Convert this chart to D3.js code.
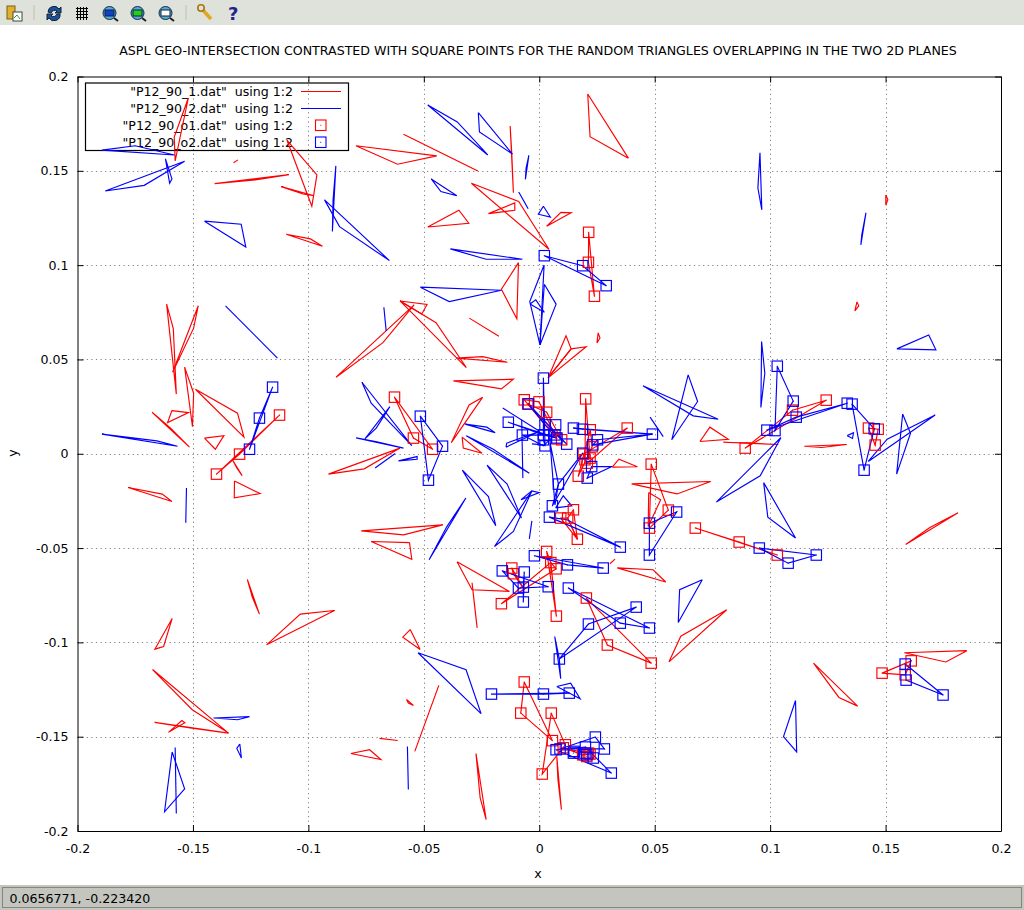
<!DOCTYPE html>
<html><head><meta charset="utf-8">
<script src="https://cdn.jsdelivr.net/npm/d3@7"></script>
<style>html,body{margin:0;padding:0;background:#fff;overflow:hidden}svg{display:block}text{font-family:"DejaVu Sans",sans-serif;fill:#000}</style>
</head><body><div id="c"></div>
<script>
const xTicks=[-0.2,-0.15,-0.1,-0.05,0,0.05,0.1,0.15,0.2];
const yTicks=[-0.2,-0.15,-0.1,-0.05,0,0.05,0.1,0.15,0.2];
const legendLabels=['"P12_90_1.dat"  using 1:2','"P12_90_2.dat"  using 1:2','"P12_90_o1.dat"  using 1:2','"P12_90_o2.dat"  using 1:2'];
const titleText="ASPL GEO-INTERSECTION CONTRASTED WITH SQUARE POINTS FOR THE RANDOM TRIANGLES OVERLAPPING IN THE TWO 2D PLANES";
const statusText="0.0656771, -0.223420";
const redTriangles=[
[-0.1520,0.1886,-0.1581,0.1679,-0.1577,0.1552],[-0.1324,0.1543,-0.1305,0.1558],[-0.1406,0.1432,-0.1084,0.1480,-0.1230,0.1452],
[-0.1093,0.1663,-0.0963,0.1478,-0.0985,0.1312],[-0.1118,0.1416,-0.0975,0.1368,-0.1023,0.1377],[-0.1096,0.1164,-0.0991,0.1139,-0.0939,0.1100],
[-0.0794,0.1633,-0.0614,0.1535,-0.0444,0.1579],[-0.0588,0.1694,-0.0266,0.1499],[-0.0126,0.1738,-0.0119,0.1593,-0.0112,0.1384],
[0.0210,0.1907,0.0220,0.1681,0.0386,0.1567],[-0.0294,0.1434,-0.0089,0.1337,0.0042,0.1084],[-0.0220,0.1273,-0.0106,0.1330,-0.0106,0.1291],
[0.0032,0.1206,0.0094,0.1280,0.0138,0.1278],[-0.0483,0.1202,-0.0348,0.1291,-0.0305,0.1222],[-0.0090,0.1013,-0.0164,0.0872,-0.0097,0.0715],
[0.0214,0.1174,0.0213,0.1015,0.0239,0.0835],[-0.0603,0.0810,-0.0486,0.0791,-0.0509,0.0741],[-0.0603,0.0810,-0.0447,0.0695,-0.0316,0.0457],
[-0.0880,0.0406,-0.0677,0.0589,-0.0542,0.0789],[-0.0303,0.0719,-0.0175,0.0623],[-0.0360,0.0507,-0.0245,0.0515,-0.0138,0.0485],
[-0.0372,0.0386,-0.0164,0.0344,-0.0112,0.0395],[-0.0245,0.0300,-0.0304,0.0259,-0.0381,0.0059],[-0.0334,0.0088,-0.0329,0.0030,-0.0248,0.0003],
[-0.0913,-0.0108,-0.0758,-0.0080,-0.0603,0.0030],[-0.0627,0.0300,-0.0545,0.0083,-0.0462,0.0024],[-0.1614,0.0793,-0.1585,0.0664,-0.1572,0.0316],
[-0.1477,0.0785,-0.1497,0.0666,-0.1588,0.0432],[-0.1536,0.0459,-0.1497,0.0321,-0.1502,0.0143],[-0.1489,0.0342,-0.1307,0.0215,-0.1279,0.0088],
[-0.1591,0.0229,-0.1519,0.0218,-0.1610,0.0165],[-0.1677,0.0220,-0.1515,0.0035,-0.1598,0.0137],[-0.1450,0.0083,-0.1366,0.0096,-0.1403,0.0024],
[-0.1320,-0.0144,-0.1209,-0.0211,-0.1321,-0.0234],[-0.1781,-0.0179,-0.1633,-0.0214,-0.1591,-0.0253],[-0.1125,0.0205,-0.1298,-0.0002,-0.1398,-0.0108],
[-0.1329,-0.0032,-0.1287,-0.0116,-0.1310,-0.0075],[-0.0771,-0.0409,-0.0418,-0.0377,-0.0588,-0.0430],[-0.0562,-0.0471,-0.0552,-0.0559,-0.0728,-0.0465],
[0.0696,0.0065,0.0739,0.0141,0.0819,0.0077],[0.0797,0.0061,0.1035,0.0049,0.0913,0.0056],[0.0892,0.0030,0.1097,0.0231,0.1243,0.0284],
[0.1148,0.0040,0.1223,0.0033,0.1331,0.0049],[0.1426,0.0136,0.1468,0.0130,0.1455,0.0046],[0.1814,-0.0313,0.1692,-0.0391,0.1587,-0.0481],
[0.0400,-0.0160,0.0742,-0.0147,0.0597,-0.0213],[0.0474,-0.0206,0.0526,-0.0244,0.0472,-0.0386],[0.0485,-0.0055,0.0559,-0.0299,0.0477,-0.0394],
[0.0676,-0.0394,0.0866,-0.0468,0.1031,-0.0537],[0.0316,-0.0071,0.0345,-0.0029,0.0425,-0.0069],[0.0338,-0.0605,0.0493,-0.0615,0.0548,-0.0680],
[0.0812,-0.0827,0.0613,-0.0967,0.0562,-0.1103],[0.0204,-0.0765,0.0295,-0.1014,0.0485,-0.1110],[0.0306,-0.0583,0.0328,-0.0559],
[-0.0164,-0.0795,0.0050,-0.0577,0.0073,-0.0610],[0.0032,-0.0518,0.0074,-0.0861,0.0050,-0.0577],[-0.0119,-0.0606,-0.0112,-0.0636,-0.0070,-0.0711],
[-0.0356,-0.0573,-0.0129,-0.0730,-0.0291,-0.0721],[-0.0291,-0.0684,-0.0282,-0.0785,-0.0269,-0.0923],[-0.1264,-0.0668,-0.1243,-0.0760,-0.1212,-0.0850],[-0.1590,-0.0873,-0.1627,-0.1022,-0.1665,-0.1036],
[-0.0887,-0.0831,-0.1035,-0.0850,-0.1181,-0.1013],[-0.0559,-0.0932,-0.0591,-0.0972,-0.0516,-0.1038],[-0.1675,-0.1144,-0.1503,-0.1357,-0.1346,-0.1481],
[-0.1666,-0.1424,-0.1346,-0.1481,-0.1512,-0.1453],[-0.1606,-0.1477,-0.1548,-0.1414,-0.1535,-0.1426],[-0.0575,-0.1303,-0.0545,-0.1334,-0.0567,-0.1322],
[-0.0435,-0.1228,-0.0539,-0.1578],[-0.0692,-0.1509,-0.0613,-0.1520],[-0.0816,-0.1589,-0.0735,-0.1569,-0.0686,-0.1621],
[-0.0274,-0.1590,-0.0256,-0.1824,-0.0230,-0.1940],[-0.0065,-0.1210,-0.0080,-0.1375,0.0057,-0.1521],[0.0052,-0.1375,0.0113,-0.1543,0.0013,-0.1698],
[0.0076,-0.1605,0.0081,-0.1728,0.0096,-0.1887],[0.1188,-0.1110,0.1298,-0.1292,0.1379,-0.1338],[0.1581,-0.1055,0.1761,-0.1104,0.1852,-0.1044],
[0.1485,-0.1163,0.1611,-0.1098,0.1585,-0.1172],[0.1501,0.1372,0.1510,0.1346,0.1501,0.1319],[0.1376,0.0805,0.1384,0.0784,0.1367,0.0757],
[0.0255,0.0641,0.0263,0.0614,0.0250,0.0588],[0.0038,0.0402,0.0116,0.0625,0.0138,0.0556],[0.0038,0.0402,0.0138,0.0556,0.0203,0.0567],
[-0.0065,0.0286,0.0076,0.0079,-0.0001,0.0275],[-0.0050,0.0264,0.0097,0.0074,0.0032,0.0220],[0.0201,0.0291,0.0220,-0.0023,0.0198,-0.0032],
[0.0381,0.0136,0.0191,-0.0002,0.0208,-0.0050],[0.0221,0.0127,0.0169,-0.0119,0.0229,0.0037],[0.0148,-0.0297,0.0165,-0.0453,0.0123,-0.0341],
[0.0093,-0.0341,0.0165,-0.0453,0.0123,-0.0341],[0.0104,-0.1559,0.0220,-0.1592,0.0188,-0.1596]
];
const blueTriangles=[
[-0.1894,0.1610,-0.1750,0.1633,-0.1580,0.1584],[-0.1880,0.1393,-0.1711,0.1423,-0.1536,0.1551],[-0.1619,0.1563,-0.1591,0.1457,-0.1601,0.1434],
[-0.1450,0.1233,-0.1291,0.1217,-0.1271,0.1096],[-0.0881,0.1526,-0.0893,0.1346,-0.0896,0.1178],[-0.0930,0.1346,-0.0865,0.1204,-0.0649,0.1024],
[-0.0483,0.1849,-0.0355,0.1759,-0.0223,0.1584],[-0.0264,0.1808,-0.0259,0.1706,-0.0116,0.1589],[-0.0045,0.1582,-0.0057,0.1514,-0.0060,0.1455],
[-0.0468,0.1457,-0.0426,0.1390,-0.0357,0.1368],[-0.0089,0.1388,-0.0048,0.1299],[0.0018,0.1312,0.0048,0.1255,-0.0004,0.1270],
[-0.0385,0.1086,-0.0230,0.1031,-0.0073,0.1031],[-0.0515,0.0883,-0.0390,0.0807,-0.0164,0.0867],[0.0021,0.1001,-0.0041,0.0807,0.0003,0.0577],
[0.0022,0.0899,0.0073,0.0793,0.0003,0.0577],[-0.0040,0.0794,-0.0015,0.0816,0.0022,0.0750],[0.0022,0.1050,0.0188,0.0997,0.0290,0.0891],
[-0.0673,0.0777,-0.0663,0.0651],[-0.1359,0.0784,-0.1134,0.0507],[-0.1155,0.0353,-0.1212,0.0189,-0.1255,0.0024],
[-0.1894,0.0104,-0.1656,0.0068,-0.1567,0.0040],[-0.1528,-0.0181,-0.1531,-0.0366],[-0.0768,0.0379,-0.0728,0.0268,-0.0552,0.0043],
[-0.0647,0.0250,-0.0706,0.0136,-0.0755,0.0079],[-0.0793,0.0084,-0.0703,0.0063,-0.0588,0.0030],[-0.0711,-0.0076,-0.0624,0.0001],
[-0.0610,-0.0038,-0.0529,-0.0015,-0.0529,-0.0029],[-0.0515,0.0199,-0.0419,0.0040,-0.0480,-0.0140],[-0.0321,0.0157,-0.0227,0.0141,-0.0191,0.0112],
[-0.0316,0.0096,-0.0199,0.0024,-0.0043,-0.0103],[-0.0158,0.0242,0.0003,0.0118],[-0.0144,0.0035,-0.0141,0.0056,0.0000,0.0118],
[-0.0076,0.0180,-0.0071,-0.0129],[-0.0032,0.0052,0.0018,0.0047],[-0.0134,0.0167,0.0073,0.0084,0.0018,0.0100],
[0.0018,0.0401,0.0025,0.0042,0.0018,0.0074],[-0.0047,0.0264,0.0119,0.0051,0.0025,0.0153],[-0.0073,0.0099,0.0068,0.0100,0.0018,0.0042],
[0.0148,0.0136,0.0490,0.0104,0.0187,0.0130],[0.0252,0.0074,0.0232,0.0047,0.0490,0.0104],[0.0188,0.0003,0.0083,-0.0161,0.0057,-0.0276],
[0.0227,-0.0068,0.0208,-0.0129,0.0315,-0.0068],[0.0047,0.0058,0.0083,-0.0161,0.0068,-0.0271],[0.0071,-0.0287,0.0104,-0.0223,0.0141,-0.0276],
[0.0044,-0.0336,0.0351,-0.0495,0.0120,-0.0350],[-0.0318,-0.0235,-0.0400,-0.0386,-0.0477,-0.0562],[-0.0333,-0.0087,-0.0220,-0.0227,-0.0188,-0.0382],
[-0.0226,-0.0060,-0.0139,-0.0161,-0.0077,-0.0341],[-0.0194,-0.0492,-0.0112,-0.0412,-0.0032,-0.0197],[-0.0079,-0.0244,-0.0032,-0.0197,0.0000,-0.0206],
[-0.0032,-0.0356,-0.0043,-0.0451],[0.0449,0.0361,0.0667,0.0201,0.0775,0.0183],[0.0645,0.0418,0.0686,0.0277,0.0574,0.0074],
[0.0480,0.0194,0.0537,0.0091],[0.0963,0.0595,0.0977,0.0427,0.0960,0.0245],[0.1031,0.0464,0.1100,0.0279,0.1021,0.0123],
[0.0986,0.0125,0.1334,0.0268,0.1113,0.0194],[0.1355,0.0263,0.1407,-0.0087,0.1451,0.0132],[0.1047,0.0086,0.0957,-0.0117,0.0767,-0.0256],
[0.0972,-0.0153,0.0990,-0.0336,0.1110,-0.0447],[0.1334,0.0096,0.1361,0.0111,0.1357,0.0081],[0.1574,0.0211,0.1608,0.0109,0.1548,-0.0108],
[0.1715,0.0205,0.1507,0.0077,0.1425,-0.0041],[0.0477,-0.0368,0.0595,-0.0309,0.0477,-0.0537],[0.0953,-0.0500,0.1200,-0.0537,0.1078,-0.0580],
[0.0706,-0.0668,0.0608,-0.0721,0.0602,-0.0895],[0.1110,-0.1308,0.1058,-0.1500,0.1115,-0.1581],[0.1585,-0.1115,0.1589,-0.1200,0.1749,-0.1279],
[0.1549,0.0556,0.1687,0.0630,0.1718,0.0551],[0.0956,0.1595,0.0947,0.1409,0.0964,0.1293],[0.1415,0.1277,0.1397,0.1160,0.1393,0.1107],
[-0.0021,-0.0541,0.0277,-0.0606,0.0122,-0.0589],[-0.0160,-0.0621,0.0039,-0.0705,-0.0090,-0.0712],[-0.0065,-0.0627,-0.0069,-0.0786,-0.0069,-0.0707],
[0.0126,-0.0712,0.0351,-0.0898,0.0477,-0.0924],[0.0420,-0.0813,0.0213,-0.0903,0.0087,-0.1088],[0.0067,-0.0969,0.0087,-0.1088,0.0093,-0.1193],
[-0.0207,-0.1274,0.0130,-0.1269,0.0018,-0.1274],[0.0076,-0.1234,0.0136,-0.1216,0.0177,-0.1299],[-0.0525,-0.1055,-0.0317,-0.1145,-0.0252,-0.1378],
[-0.1411,-0.1401,-0.1255,-0.1394,-0.1307,-0.1410],[-0.1297,-0.1539,-0.1310,-0.1562,-0.1290,-0.1613],[-0.1590,-0.1581,-0.1536,-0.1777,-0.1623,-0.1898],
[-0.1577,-0.1557,-0.1572,-0.1907],[-0.0571,-0.1552,-0.0567,-0.1780],[0.0243,-0.1502,0.0282,-0.1565,0.0090,-0.1565],
[0.0073,-0.1569,0.0312,-0.1693,0.0200,-0.1555]
];
const redSquares=[
[-0.0627,0.0300],[-0.0545,0.0083],[-0.0462,0.0024],[-0.1125,0.0205],[-0.1298,-0.0002],[-0.1398,-0.0108],[0.0214,0.1174],[0.0213,0.1015],[0.0239,0.0835],
[-0.0065,0.0286],[-0.0050,0.0264],[-0.0001,0.0275],[0.0032,0.0220],[0.0201,0.0291],[0.0381,0.0136],[0.0221,0.0127],[0.0191,-0.0002],[0.0220,-0.0023],
[0.0198,-0.0032],[0.0208,-0.0050],[0.0169,-0.0119],[0.0076,0.0079],[0.0097,0.0074],[0.0229,0.0037],[0.0148,-0.0297],[0.0165,-0.0453],[0.0093,-0.0341],
[0.0123,-0.0341],[0.0485,-0.0055],[0.0559,-0.0299],[0.0477,-0.0394],[0.0676,-0.0394],[0.0866,-0.0468],[0.1031,-0.0537],[0.0892,0.0030],[0.1097,0.0231],
[0.1243,0.0284],[0.1426,0.0136],[0.1468,0.0130],[0.1455,0.0046],[0.0032,-0.0518],[0.0050,-0.0577],[0.0073,-0.0610],[-0.0119,-0.0606],[-0.0112,-0.0636],
[-0.0164,-0.0795],[0.0074,-0.0861],[0.0204,-0.0765],[0.0295,-0.1014],[0.0485,-0.1110],[0.1485,-0.1163],[0.1611,-0.1098],[0.1585,-0.1172],[-0.0065,-0.1210],
[-0.0080,-0.1375],[0.0057,-0.1521],[0.0052,-0.1375],[0.0113,-0.1543],[0.0013,-0.1698],[0.0104,-0.1559],[0.0188,-0.1596],[0.0220,-0.1592],[0.0206,-0.1605],[0.0213,-0.1587]
];
const blueSquares=[
[0.0022,0.1050],[0.0188,0.0997],[0.0290,0.0891],[-0.1155,0.0353],[-0.1212,0.0189],[-0.1255,0.0024],[-0.0515,0.0199],[-0.0419,0.0040],[-0.0480,-0.0140],
[-0.0134,0.0167],[-0.0073,0.0099],[-0.0047,0.0264],[0.0018,0.0401],[0.0025,0.0153],[0.0071,0.0153],[0.0148,0.0136],[0.0187,0.0130],[0.0018,0.0100],
[0.0018,0.0074],[0.0025,0.0042],[0.0068,0.0100],[0.0076,0.0084],[0.0119,0.0051],[0.0252,0.0074],[0.0232,0.0047],[0.0490,0.0104],[0.0188,0.0003],
[0.0227,-0.0068],[0.0208,-0.0129],[0.0083,-0.0161],[0.0057,-0.0276],[0.0044,-0.0336],[0.0351,-0.0495],[-0.0021,-0.0541],[0.0277,-0.0606],[0.0122,-0.0589],
[0.0477,-0.0368],[0.0595,-0.0309],[0.0477,-0.0537],[0.1031,0.0464],[0.1100,0.0279],[0.1021,0.0123],[0.0986,0.0125],[0.1334,0.0268],[0.1113,0.0194],
[0.1355,0.0263],[0.1407,-0.0087],[0.1451,0.0132],[0.0953,-0.0500],[0.1200,-0.0537],[0.1078,-0.0580],[-0.0160,-0.0621],[0.0039,-0.0705],[-0.0090,-0.0712],
[-0.0065,-0.0627],[-0.0069,-0.0786],[-0.0069,-0.0707],[0.0126,-0.0712],[0.0351,-0.0898],[0.0477,-0.0924],[0.0420,-0.0813],[0.0213,-0.0903],[0.0087,-0.1088],
[0.1585,-0.1115],[0.1589,-0.1200],[0.1749,-0.1279],[-0.0207,-0.1274],[0.0130,-0.1269],[0.0018,-0.1274],[0.0243,-0.1502],[0.0282,-0.1565],[0.0090,-0.1565],
[0.0073,-0.1569],[0.0312,-0.1693],[0.0200,-0.1555],[0.0234,-0.1613],[0.0206,-0.1596],[0.0151,-0.1578],[0.0148,-0.1587],[0.0198,-0.1587]
];

const W=1024,H=910,FS=12.6;
const svg=d3.select("#c").append("svg").attr("width",W).attr("height",H);
const x=d3.scaleLinear().domain([-0.2,0.2]).range([77.5,1001]);
const y=d3.scaleLinear().domain([-0.2,0.2]).range([831,76.5]);

// window chrome
svg.append("rect").attr("width",W).attr("height",25).attr("fill","#dfe1db");
svg.append("rect").attr("y",885).attr("width",W).attr("height",25).attr("fill","#c3c5be");
svg.append("rect").attr("x",2.5).attr("y",887.5).attr("width",1019).attr("height",20).attr("fill","none").attr("stroke","#85877f");
svg.append("text").attr("x",9.5).attr("y",903).attr("font-size",12.6).text(statusText);
const tb=svg.append("g");
[34,186].forEach(v=>tb.append("line").attr("x1",v).attr("x2",v).attr("y1",5).attr("y2",20).attr("stroke","#c9cbc5").attr("stroke-width",1.5));
tb.append("rect").attr("x",7).attr("y",6).attr("width",8).attr("height",13).attr("fill","#e0b030").attr("stroke","#7a6010");
tb.append("rect").attr("x",13).attr("y",12).attr("width",9).attr("height",9).attr("fill","#fff").attr("stroke","#444");
tb.append("path").attr("d","M14 18L17 15L20 19").attr("fill","none").attr("stroke","#2a2");
tb.append("path").attr("d","M48 12A6 6 0 0 1 59 9L61 7V13H55L57 11A4 4 0 0 0 51 13Z").attr("fill","#1b4f9c").attr("stroke","#123");
tb.append("path").attr("d","M60 14A6 6 0 0 1 49 18L47 20V14H53L51 16A4 4 0 0 0 57 14Z").attr("fill","#1b4f9c").attr("stroke","#123");
for(let i=0;i<4;i++){tb.append("line").attr("x1",76).attr("x2",88).attr("y1",8+i*3+.5).attr("y2",8+i*3+.5).attr("stroke","#000");
 tb.append("line").attr("y1",7).attr("y2",20).attr("x1",77+i*3+.5).attr("x2",77+i*3+.5).attr("stroke","#000");}
[[110,"#1040d0"],[138,"#20d020"],[166,"#fff"]].forEach(([cx,col])=>{
 tb.append("line").attr("x1",cx+4).attr("y1",18).attr("x2",cx+8).attr("y2",21).attr("stroke","#222").attr("stroke-width",2);
 tb.append("circle").attr("cx",cx-.5).attr("cy",13).attr("r",6.5).attr("fill","#5aa8d8").attr("stroke","#10304a");
 tb.append("rect").attr("x",cx-5).attr("y",10).attr("width",9).attr("height",6).attr("fill",col).attr("stroke","#123");
});
tb.append("path").attr("d","M201 8L211 19").attr("stroke","#e0a820").attr("stroke-width",3.5).attr("fill","none");
tb.append("circle").attr("cx",201).attr("cy",8).attr("r",3.2).attr("fill","#dfe1db").attr("stroke","#a87810").attr("stroke-width",1.6);
tb.append("text").attr("x",228).attr("y",20).attr("font-size",18).attr("font-weight","bold").style("fill","#23238e").text("?");

// grid
const g=svg.append("g").attr("stroke","#808080").attr("stroke-dasharray","1.2,3.4").attr("stroke-width",1);
xTicks.slice(1,-1).forEach(t=>g.append("line").attr("x1",Math.round(x(t))+.5).attr("x2",Math.round(x(t))+.5).attr("y1",y(-0.2)).attr("y2",y(0.2)));
yTicks.slice(1,-1).forEach(t=>g.append("line").attr("y1",Math.round(y(t))+.5).attr("y2",Math.round(y(t))+.5).attr("x1",x(-0.2)).attr("x2",x(0.2)));

// axes
const fmt=d=>d===0?"0":String(+d.toFixed(2));
const axB=d3.axisBottom(x).tickValues(xTicks).tickFormat(fmt).tickSizeInner(-6).tickSizeOuter(0).tickPadding(13);
const axL=d3.axisLeft(y).tickValues(yTicks).tickFormat(fmt).tickSizeInner(-6).tickSizeOuter(0).tickPadding(9);
const axT=d3.axisTop(x).tickValues(xTicks).tickFormat("").tickSizeInner(-6).tickSizeOuter(0);
const axR=d3.axisRight(y).tickValues(yTicks).tickFormat("").tickSizeInner(-6).tickSizeOuter(0);
[[axB,0,831],[axL,77.5,0],[axT,0,76.5],[axR,1001,0]].forEach(([a,tx,ty])=>{
 const gg=svg.append("g").attr("transform",`translate(${tx},${ty})`).call(a);
 gg.selectAll("path,line").attr("stroke","#000");
 gg.selectAll("text").attr("font-size",FS).attr("font-family","DejaVu Sans").style("fill","#000");
});
svg.append("text").attr("x",538).attr("y",878).attr("text-anchor","middle").attr("font-size",FS).text("x");
svg.append("text").attr("transform","translate(17,453) rotate(-90)").attr("text-anchor","middle").attr("font-size",FS).text("y");
svg.append("text").attr("x",538).attr("y",55).attr("text-anchor","middle").attr("font-size",FS).text(titleText);

// legend
svg.append("rect").attr("x",85.5).attr("y",83).attr("width",263).attr("height",67.5).attr("fill","none").attr("stroke","#000").attr("stroke-width",1.2);
const legendColors=["#ff0000","#0000ff","#ff0000","#0000ff"];
legendLabels.forEach((l,i)=>{
 const ly=91.5+i*17;
 svg.append("text").attr("x",293).attr("y",ly+4.5).attr("text-anchor","end").attr("font-size",FS).style("white-space","pre").text(l);
 if(i<2) svg.append("line").attr("x1",301).attr("x2",341).attr("y1",ly).attr("y2",ly).attr("stroke",legendColors[i]).attr("stroke-width",1.1);
 else {svg.append("rect").attr("x",315.5).attr("y",ly-5.5).attr("width",10.5).attr("height",10.5).attr("fill","none").attr("stroke",legendColors[i]).attr("stroke-width",1.1);
  svg.append("rect").attr("x",320.3).attr("y",ly-.7).attr("width",1).attr("height",1).attr("fill",legendColors[i]);}
});

// marks
const line=d3.line().x(d=>x(d[0])).y(d=>y(d[1]));
const toPts=f=>{const p=[];for(let i=0;i<f.length;i+=2)p.push([f[i],f[i+1]]);if(p.length>2)p.push(p[0]);return p;};
function drawPaths(data,col){svg.append("g").selectAll("path").data(data).join("path").attr("d",d=>line(toPts(d))).attr("fill","none").attr("stroke",col).attr("stroke-width",1.15);}
function drawSq(data,col){const s=svg.append("g");
 s.selectAll("rect.s").data(data).join("rect").attr("class","s").attr("x",d=>x(d[0])-5.2).attr("y",d=>y(d[1])-5.2).attr("width",10.4).attr("height",10.4).attr("fill","none").attr("stroke",col).attr("stroke-width",1.15);
 s.selectAll("rect.c").data(data).join("rect").attr("class","c").attr("x",d=>x(d[0])-.5).attr("y",d=>y(d[1])-.5).attr("width",1).attr("height",1).attr("fill",col);}
drawPaths(redTriangles,"#ff0000");
drawPaths(blueTriangles,"#0000ff");
drawSq(redSquares,"#ff0000");
drawSq(blueSquares,"#0000ff");
</script></body></html>
